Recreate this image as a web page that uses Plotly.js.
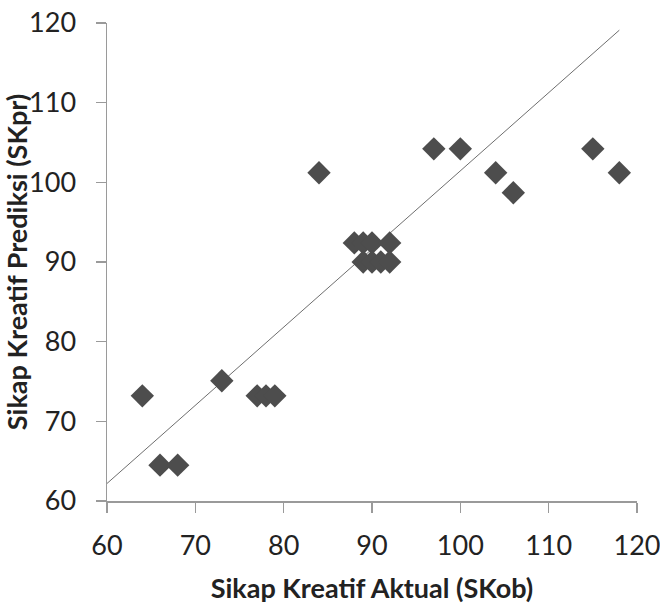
<!DOCTYPE html>
<html>
<head>
<meta charset="utf-8">
<script src="https://cdn.plot.ly/plotly-3.0.1.min.js"></script>
<style>html,body{margin:0;padding:0;background:#fff;}#chart{width:660px;height:604px;}</style>
</head>
<body>
<div id="chart"></div>
<script>
// Observed (actual) creative attitude scores
var skObserved = [64, 66, 68, 73, 77, 78, 79, 84, 88, 89, 90, 92, 89, 90, 91, 92, 97, 100, 104, 106, 115, 118];
// Predicted creative attitude scores
var skPredicted = [73.2, 64.5, 64.5, 75.1, 73.2, 73.2, 73.2, 101.2, 92.4, 92.4, 92.4, 92.4, 90.0, 90.0, 90.0, 90.0, 104.2, 104.2, 101.2, 98.7, 104.2, 101.2];
// Reference line endpoints
var refLineX = [60, 118];
var refLineY = [62.2, 119.1];
var tickValues = [60, 70, 80, 90, 100, 110, 120];

var fontFamily = "Lato, 'Open Sans', sans-serif";

var traces = [
  {
    x: refLineX, y: refLineY, type: 'scatter', mode: 'lines',
    line: {color: '#6e6e6e', width: 1}, hoverinfo: 'skip', showlegend: false
  },
  {
    x: skObserved, y: skPredicted, type: 'scatter', mode: 'markers',
    marker: {symbol: 'diamond', size: 18, color: '#4d4d4d', line: {width: 0}},
    showlegend: false
  }
];

var axisCommon = {
  range: [60, 120], tickvals: tickValues, showgrid: false, zeroline: false,
  showline: true, linecolor: '#9a9a9a', linewidth: 1.5,
  ticks: 'outside', ticklen: 10, tickwidth: 1.5, tickcolor: '#9a9a9a',
  ticklabeloverflow: 'allow',
  tickfont: {family: fontFamily, size: 27, color: '#222'}
};

var layout = {
  width: 660, height: 604,
  margin: {l: 107, r: 23, t: 23, b: 103},
  paper_bgcolor: '#fff', plot_bgcolor: '#fff',
  xaxis: Object.assign({}, axisCommon, {
    ticklabelstandoff: 10,
    title: {text: 'Sikap Kreatif Aktual (SKob)', font: {family: fontFamily, size: 27, color: '#222', weight: 'bold'}, standoff: 20}
  }),
  yaxis: Object.assign({}, axisCommon, {
    ticklabelstandoff: 14,
    title: {text: 'Sikap Kreatif Prediksi (SKpr)', font: {family: fontFamily, size: 27, color: '#222', weight: 'bold'}, standoff: 6}
  })
};

Plotly.newPlot('chart', traces, layout, {displayModeBar: false, staticPlot: true});
</script>
</body>
</html>
